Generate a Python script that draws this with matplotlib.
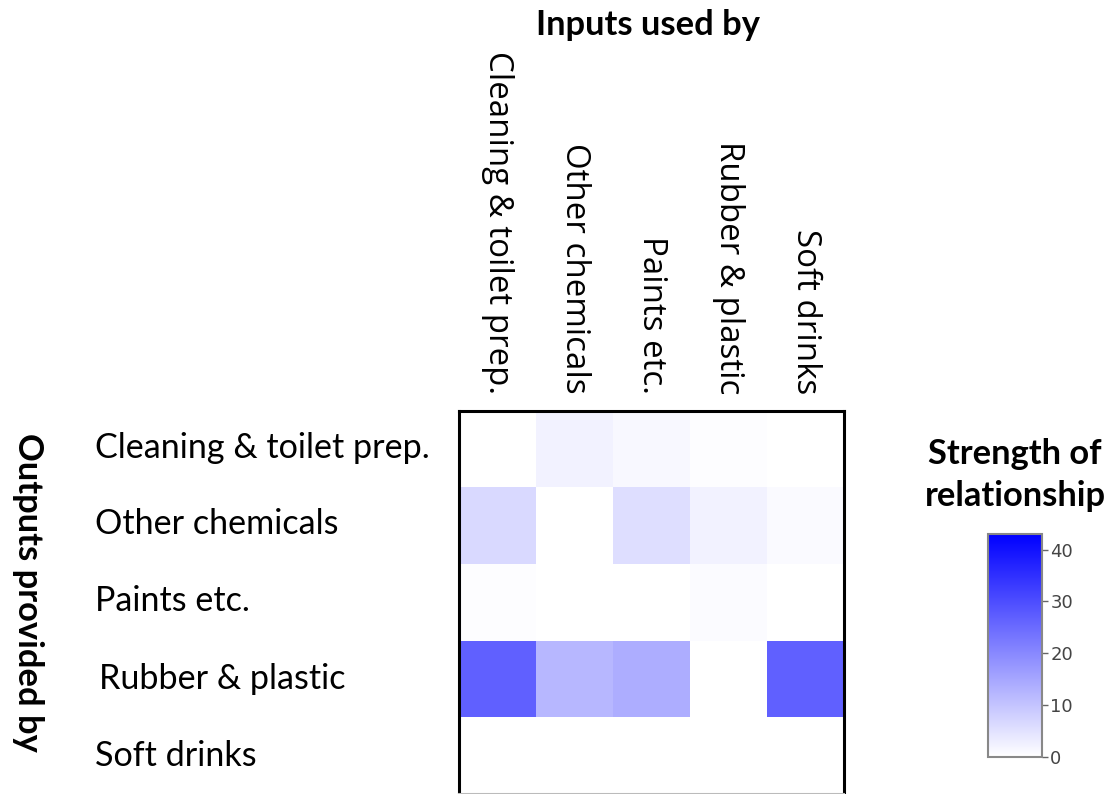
import numpy as np
import matplotlib
matplotlib.use("Agg")
import matplotlib.pyplot as plt
from matplotlib.colors import LinearSegmentedColormap

W, H = 1113, 794

sectors = ["Cleaning & toilet prep.", "Other chemicals", "Paints etc.",
           "Rubber & plastic", "Soft drinks"]
# rows: sector providing output, columns: sector using it as input
strength = np.array([
    [0.0, 2.2, 1.3, 0.5, 0.0],
    [6.4, 0.0, 5.7, 2.2, 0.9],
    [0.5, 0.0, 0.0, 0.7, 0.0],
    [26.8, 12.1, 13.8, 0.0, 26.8],
    [0.0, 0.0, 0.0, 0.0, 0.0],
])
vmax = 43
cbar_ticks = [0, 10, 20, 30, 40]

CAL = ["Lato", "DejaVu Sans"]
SEG = ["Open Sans", "DejaVu Sans"]


def px(x, y, w, h):
    return [x / W, 1 - (y + h) / H, w / W, h / H]


cmap = LinearSegmentedColormap.from_list("wb", ["#ffffff", "#0000ff"])

fig = plt.figure(figsize=(W / 100, H / 100), dpi=100)

ax = fig.add_axes(px(459, 411, 385, 383))
im = ax.imshow(strength, cmap=cmap, vmin=0, vmax=vmax, aspect="auto",
               interpolation="nearest", extent=(0, 5, 5.03, 0))
ax.set_ylim(5.03, 0)
ax.set_xticks([]); ax.set_yticks([])
for side in ("top", "left", "right"):
    ax.spines[side].set_linewidth(2.2)
    ax.spines[side].set_color("black")
ax.spines["bottom"].set_color("#bbbbbb")
ax.spines["bottom"].set_linewidth(1.5)

# column labels, read top to bottom, sitting just above the grid
col_x = [459 + 77 * (i + 0.5) for i in range(5)]
for x, name in zip(col_x, sectors):
    fig.text(x / W, 1 - 394 / H, name, rotation=270, ha="center", va="bottom",
             fontsize=23.8, family=SEG)

row_y = [448, 524, 601, 679, 756]
row_x = [95, 95, 95, 99, 95]
for x, y, name in zip(row_x, row_y, sectors):
    fig.text(x / W, 1 - y / H, name, ha="left", va="center",
             fontsize=24.6, family=CAL)

fig.text(648 / W, 1 - 25 / H, "Inputs used by", ha="center", va="center",
         fontsize=24.8, weight="bold", family=CAL)
fig.text(28 / W, 1 - 592 / H, "Outputs provided by", ha="center", va="center",
         rotation=270, fontsize=24.8, weight="bold", family=CAL)
fig.text(1015 / W, 1 - 475 / H, "Strength of\nrelationship", ha="center",
         va="center", fontsize=24.8, weight="bold", family=CAL, linespacing=1.4)

cax = fig.add_axes(px(988, 534, 54, 223))
cb = fig.colorbar(im, cax=cax, ticks=cbar_ticks)
cb.outline.set_edgecolor("#888888")
cb.outline.set_linewidth(1.5)
cax.tick_params(labelsize=13, colors="#666666", length=4, width=1,
                labelcolor="#444444", pad=2)

fig.savefig("out.png", dpi=100)
